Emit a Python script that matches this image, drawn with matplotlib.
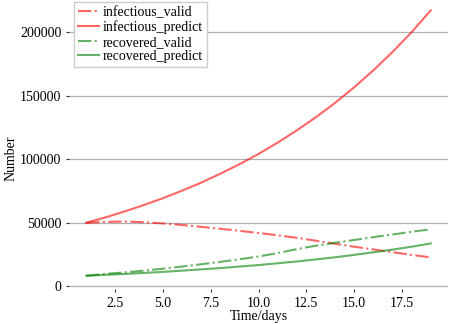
import matplotlib
matplotlib.use('Agg')
import matplotlib.pyplot as plt

days = list(range(1, 20))

infectious_valid = [50000, 50700, 51000, 50500, 49500, 48300, 46800, 45300, 43700, 42000,
                    40200, 38200, 35900, 33500, 31200, 29100, 26900, 24800, 22800]
infectious_predict = [50000, 54200, 58900, 63900, 69300, 75200, 81500, 88500, 96000, 104100,
                      113000, 122600, 133000, 144200, 156500, 169800, 184200, 199800, 217000]
recovered_valid = [8400, 9800, 11000, 12400, 13900, 15600, 17400, 19300, 21300, 23500,
                   26200, 29300, 32000, 34300, 36500, 38700, 40800, 42900, 44900]
recovered_predict = [8400, 9100, 9800, 10600, 11400, 12400, 13400, 14400, 15600, 16800,
                     18200, 19600, 21200, 22900, 24800, 26800, 28900, 31200, 33800]

plt.rcParams['font.family'] = ['Liberation Serif', 'DejaVu Serif']
plt.rcParams['font.size'] = 10

fig = plt.figure(figsize=(4.49, 3.24), dpi=100)
ax = fig.add_axes([69/449, 35/324, 379/449, 292/324])

ax.plot(days, infectious_valid, '-.', color='r', alpha=0.6, lw=1.5, label='infectious_valid')
ax.plot(days, infectious_predict, '-', color='r', alpha=0.6, lw=1.5, label='infectious_predict')
ax.plot(days, recovered_valid, '-.', color='g', alpha=0.6, lw=1.5, label='recovered_valid')
ax.plot(days, recovered_predict, '-', color='g', alpha=0.6, lw=1.5, label='recovered_predict')

ax.set_yticks([0, 50000, 100000, 150000, 200000])
ax.set_xticks([2.5, 5.0, 7.5, 10.0, 12.5, 15.0, 17.5])
ax.grid(axis='y', color='#b0b0b0', lw=0.9)
ax.set_axisbelow(True)
for s in ax.spines.values():
    s.set_visible(False)
ax.tick_params(length=2.5, width=0.8, color='#333333', pad=3)

ax.set_xlabel('Time/days', labelpad=0)
ax.set_ylabel('Number')
ax.yaxis.set_label_coords(-0.137, 0.449)

leg = ax.legend(loc='upper left', bbox_to_anchor=(0.012, 0.983), handlelength=1.5,
                handletextpad=0.3, borderpad=0.3, labelspacing=0.1, borderaxespad=0.0,
                framealpha=1, edgecolor='#cccccc', fancybox=False)

fig.savefig('out.png', dpi=100)
